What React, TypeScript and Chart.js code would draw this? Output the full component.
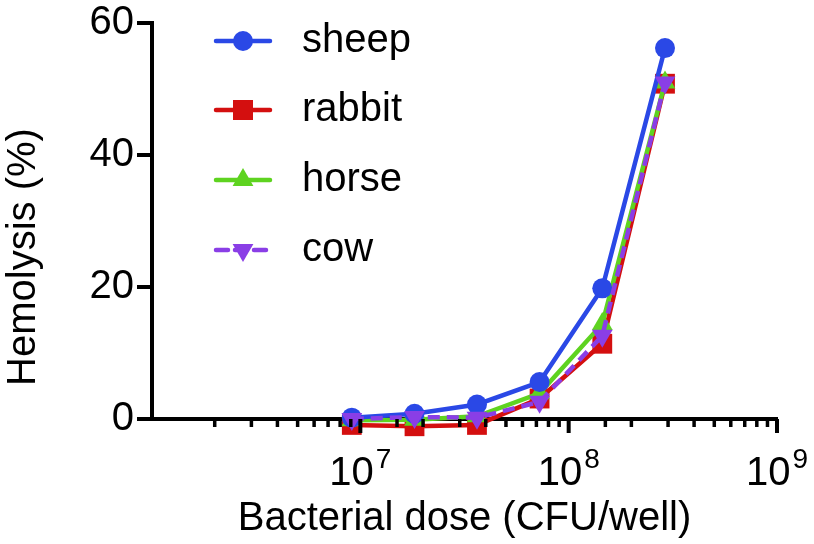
import React, { useEffect, useRef } from "react";
import { Chart, registerables } from "chart.js";

Chart.register(...registerables);

// ---- data ----
const doses = [9.1e6, 1.82e7, 3.63e7, 7.25e7, 1.45e8, 2.9e8];
const sheep = [0.2, 0.8, 2.2, 5.6, 19.8, 56.2];
const rabbit = [-0.9, -1.1, -0.9, 3.1, 11.4, 50.8];
const horse = [-0.2, -0.1, 0.4, 3.9, 14.4, 51.0];
const cow = [0.0, 0.3, 0.2, 2.6, 12.6, 51.0];
const seriesNames = ["sheep", "rabbit", "horse", "cow"];
const seriesColors = ["#2a48e6", "#d40f0f", "#5ed320", "#8a3ee6"];
const yTickValues = [0, 20, 40, 60];
const xLabelExponents = [7, 8, 9];
const xTitle = "Bacterial dose (CFU/well)";
const yTitle = "Hemolysis (%)";

const FONT = "'Liberation Sans', Arial, Helvetica, sans-serif";
const LINE_W = 4.5;

type Marker = "circle" | "rect" | "triUp" | "triDown";
const markers: Marker[] = ["circle", "rect", "triUp", "triDown"];

function drawMarker(ctx: CanvasRenderingContext2D, kind: Marker, x: number, y: number, color: string) {
  ctx.fillStyle = color;
  ctx.beginPath();
  if (kind === "circle") {
    ctx.arc(x, y, 10, 0, Math.PI * 2);
  } else if (kind === "rect") {
    ctx.rect(x - 10, y - 10, 20, 20);
  } else {
    const r = 12;
    const dir = kind === "triUp" ? 1 : -1;
    for (let k = 0; k < 3; k++) {
      const a = (k * 2 * Math.PI) / 3;
      const px = x + Math.sin(a) * r;
      const py = y - dir * Math.cos(a) * r;
      if (k === 0) ctx.moveTo(px, py);
      else ctx.lineTo(px, py);
    }
    ctx.closePath();
  }
  ctx.fill();
}

const decorPlugin = {
  id: "decor",
  afterDraw(chart: any) {
    const ctx: CanvasRenderingContext2D = chart.ctx;
    const xs = chart.scales.x;
    const axisY = chart.chartArea.bottom;
    ctx.save();
    ctx.strokeStyle = "#000";
    ctx.lineCap = "butt";
    // x-axis ticks (major long, minor short)
    for (const t of xs.ticks) {
      const v = t.value;
      if (v <= xs.min * 1.0001) continue;
      const lg = Math.log10(v);
      const major = Math.abs(lg - Math.round(lg)) < 1e-6;
      const px = xs.getPixelForValue(v);
      ctx.lineWidth = major ? 4 : 3.5;
      ctx.beginPath();
      ctx.moveTo(px, axisY);
      ctx.lineTo(px, axisY + (major ? 14 : 8));
      ctx.stroke();
    }
    // x tick labels 10^n
    ctx.fillStyle = "#000";
    ctx.textBaseline = "alphabetic";
    ctx.textAlign = "left";
    for (const e of xLabelExponents) {
      const px = xs.getPixelForValue(Math.pow(10, e));
      ctx.font = `40px ${FONT}`;
      const base = "10";
      const wb = ctx.measureText(base).width;
      ctx.font = `28px ${FONT}`;
      const sup = String(e);
      const ws = ctx.measureText(sup).width;
      const gap = 2;
      const x0 = px - (wb + gap + ws) / 2;
      ctx.font = `40px ${FONT}`;
      ctx.fillText(base, x0, axisY + 66);
      ctx.font = `28px ${FONT}`;
      ctx.fillText(sup, x0 + wb + gap, axisY + 49);
    }
    // y axis title (rotated)
    ctx.save();
    ctx.translate(35, 257);
    ctx.rotate(-Math.PI / 2);
    ctx.font = `40px ${FONT}`;
    ctx.textAlign = "center";
    ctx.textBaseline = "alphabetic";
    ctx.fillStyle = "#000";
    ctx.fillText(yTitle, 0, 0);
    ctx.restore();
    // legend
    const rows = [41, 110, 180, 250];
    for (let i = 0; i < seriesNames.length; i++) {
      const y = rows[i];
      const c = seriesColors[i];
      ctx.strokeStyle = c;
      ctx.lineWidth = LINE_W;
      ctx.lineCap = "round";
      ctx.setLineDash(i === 3 ? [12, 7] : []);
      ctx.beginPath();
      ctx.moveTo(216, y);
      ctx.lineTo(270, y);
      ctx.stroke();
      ctx.setLineDash([]);
      drawMarker(ctx, markers[i], 243, y, c);
      ctx.fillStyle = "#000";
      ctx.font = `40px ${FONT}`;
      ctx.textBaseline = "middle";
      ctx.textAlign = "left";
      ctx.fillText(seriesNames[i], 302, y);
    }
    ctx.restore();
  },
};

export default function App() {
  const ref = useRef<HTMLCanvasElement | null>(null);
  useEffect(() => {
    document.body.style.margin = "0";
    if (!ref.current) return;
    Chart.defaults.font.family = FONT;
    const series = [sheep, rabbit, horse, cow];
    const styles = [
      { pointStyle: "circle", pointRadius: 10, rotation: 0, order: 1 },
      { pointStyle: "rect", pointRadius: 14, rotation: 0, order: 3 },
      { pointStyle: "triangle", pointRadius: 12, rotation: 0, order: 2 },
      { pointStyle: "triangle", pointRadius: 12, rotation: 180, order: 0 },
    ];
    const chart = new Chart(ref.current, {
      type: "line",
      data: {
        datasets: series.map((vals, i) => ({
          label: seriesNames[i],
          data: doses.map((x, j) => ({ x, y: vals[j] })),
          borderColor: seriesColors[i],
          backgroundColor: seriesColors[i],
          pointBackgroundColor: seriesColors[i],
          borderWidth: LINE_W,
          borderDash: i === 3 ? [12, 7] : [],
          pointStyle: styles[i].pointStyle as any,
          pointRadius: styles[i].pointRadius,
          pointRotation: styles[i].rotation,
          pointBorderWidth: 0,
          tension: 0,
          order: styles[i].order,
          clip: false as any,
          fill: false,
        })),
      },
      options: {
        animation: false,
        responsive: false,
        devicePixelRatio: 1,
        layout: { padding: { left: 0, right: 37, top: 22, bottom: 0 } },
        plugins: { legend: { display: false }, tooltip: { enabled: false } },
        scales: {
          x: {
            type: "logarithmic",
            min: 1e6,
            max: 1e9,
            grid: { display: false },
            border: { display: true, color: "#000", width: 4 },
            ticks: { display: false, autoSkip: false },
            title: {
              display: true,
              text: xTitle,
              color: "#000",
              font: { family: FONT, size: 40, lineHeight: 1 },
              padding: { top: 0, bottom: 5 },
            },
            afterFit(s: any) {
              s.height = 125;
            },
          },
          y: {
            type: "linear",
            min: 0,
            max: 60,
            afterBuildTicks(s: any) {
              s.ticks = yTickValues.map((v) => ({ value: v }));
            },
            grid: {
              display: true,
              drawOnChartArea: false,
              drawTicks: true,
              tickLength: 15,
              color: "#000",
              lineWidth: 4,
            },
            border: { display: true, color: "#000", width: 4 },
            ticks: {
              color: "#000",
              font: { family: FONT, size: 40, lineHeight: 1 },
              padding: 3,
            },
            title: { display: false },
            afterFit(s: any) {
              s.width = 152;
            },
          },
        },
      },
      plugins: [decorPlugin],
    });
    return () => chart.destroy();
  }, []);
  return <canvas ref={ref} width={814} height={544} style={{ display: "block" }} />;
}
